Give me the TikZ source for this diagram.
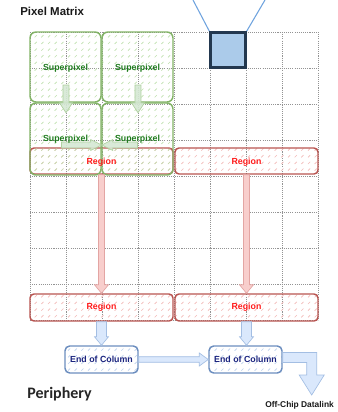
\documentclass[tikz,border=0pt]{standalone}
\usepackage{fontspec}
\setmainfont{Liberation Sans}
\newfontfamily\carl{Carlito}
\usetikzlibrary{patterns,calc}
\pgfdeclarepatternformonly{shorthatch}{\pgfqpoint{-1pt}{-1pt}}{\pgfqpoint{6pt}{6pt}}{\pgfqpoint{5pt}{5pt}}{%
  \pgfsetlinewidth{0.45pt}%
  \pgfpathmoveto{\pgfqpoint{1pt}{1pt}}\pgfpathlineto{\pgfqpoint{2.6pt}{2.6pt}}\pgfusepath{stroke}%
}
\definecolor{spline}{HTML}{82B366}
\definecolor{sptext}{HTML}{1E7B1E}
\definecolor{sphatch}{HTML}{BFE0AE}
\definecolor{rgline}{HTML}{B85450}
\definecolor{rgtext}{HTML}{FF1A1A}
\definecolor{rghatch}{HTML}{F2B9B7}
\definecolor{ecline}{HTML}{6C8EBF}
\definecolor{ectext}{HTML}{1A237E}
\definecolor{echatch}{HTML}{BCD0EC}
\definecolor{garrowf}{HTML}{D5E8D4}
\definecolor{garrowd}{HTML}{AFD19F}
\definecolor{parrowf}{HTML}{F8CECC}
\definecolor{parrowd}{HTML}{E3A5A3}
\definecolor{barrowf}{HTML}{DAE8FC}
\definecolor{barrowd}{HTML}{A3BEE3}
\definecolor{pixfill}{HTML}{ABCBEA}
\definecolor{pixline}{HTML}{23384F}
\definecolor{beam}{HTML}{6FA3DE}
\def\pxu{0.75pt}
% vertical (downward) block arrow: from, to, shaft half, head half, head length, style
\newcommand\blockdown[6]{%
  \path[#6] let \p1=(#1), \p2=(#2) in
    ({\x1-#3},{\y1}) -- ({\x1-#3},{\y2+#5}) -- ({\x1-#4},{\y2+#5}) -- ({\x1},{\y2})
    -- ({\x1+#4},{\y2+#5}) -- ({\x1+#3},{\y2+#5}) -- ({\x1+#3},{\y1}) -- cycle;}
% horizontal block arrow
\newcommand\blockh[6]{%
  \path[#6] let \p1=(#1), \p2=(#2), \n1={sign(\x2-\x1)} in
    ({\x1},{\y1+#3}) -- ({\x2-(\n1)*(#5)},{\y1+#3}) -- ({\x2-(\n1)*(#5)},{\y1+#4}) -- ({\x2},{\y1})
    -- ({\x2-(\n1)*(#5)},{\y1-#4}) -- ({\x2-(\n1)*(#5)},{\y1-#3}) -- ({\x1},{\y1-#3}) -- cycle;}
\begin{document}
\begin{tikzpicture}[x=0.75pt,y=-0.75pt,
  gridline/.style={draw=gray!85, line width=0.5pt, dash pattern=on 0.8pt off 0.8pt},
  spbox/.style={draw=spline, line width=1.1pt, rounded corners=4.5pt, pattern=shorthatch, pattern color=sphatch, inner sep=0pt},
  rgbox/.style={draw=rgline, line width=1.1pt, rounded corners=3pt, pattern=shorthatch, pattern color=rghatch, inner sep=0pt, minimum width=143*\pxu},
  ecbox/.style={draw=ecline, line width=1.1pt, rounded corners=3.5pt, pattern=shorthatch, pattern color=echatch, inner sep=0pt, minimum width=73*\pxu, minimum height=27*\pxu},
  lbl/.style={font=\fontsize{6.6}{7}\selectfont\bfseries, inner sep=0pt},
  garr/.style={fill=garrowf, draw=garrowd, line width=0.5pt, fill opacity=0.9},
  parr/.style={fill=parrowf, draw=parrowd, line width=0.5pt},
  barr/.style={fill=barrowf, draw=barrowd, line width=0.5pt},
]
\useasboundingbox (0,0) rectangle (337,412);

% grid
\foreach \i in {0,...,8} \draw[gridline] (30+36*\i,32) -- (30+36*\i,320);
\foreach \j in {0,...,8} \draw[gridline] (30,32+36*\j) -- (318,32+36*\j);

% regions
\node[rgbox, minimum height=26*\pxu] (rg1) at (101.5,161) {};
\node[rgbox, minimum height=26*\pxu] (rg2) at (246.5,161) {};
\node[rgbox, minimum height=27*\pxu] (rg3) at (101.5,307.5) {};
\node[rgbox, minimum height=27*\pxu] (rg4) at (246.5,307.5) {};

% superpixels
\node[spbox, minimum width=71*\pxu, minimum height=70*\pxu] (sp1) at (65.5,67) {};
\node[spbox, minimum width=71*\pxu, minimum height=70*\pxu] (sp2) at (137.5,67) {};
\node[spbox, minimum width=71*\pxu, minimum height=72*\pxu] (sp3) at (65.5,139) {};
\node[spbox, minimum width=71*\pxu, minimum height=72*\pxu] (sp4) at (137.5,139) {};

% end of column
\node[ecbox] (ec1) at (101.5,359.5) {};
\node[ecbox] (ec2) at (245.5,359.5) {};

% highlighted pixel and its beams
\coordinate (beamL) at (193,0);
\coordinate (beamR) at (265,0);
\draw[beam, line width=0.8pt] (beamL) -- (209.5,31.5);
\draw[beam, line width=0.8pt] (beamR) -- (246.5,31.5);
\node[draw=pixline, fill=pixfill, line width=2.3pt, minimum size=35*\pxu, inner sep=0pt] (pix) at (228,50) {};

% green arrows
\coordinate (g1s) at ($(sp1.center)+(0.5,18)$);
\coordinate (g1e) at ($(sp1.south)+(0.5,10)$);
\coordinate (g2s) at ($(sp2.center)+(0.5,18)$);
\coordinate (g2e) at ($(sp2.south)+(0.5,10)$);
\blockdown{g1s}{g1e}{2.25pt}{4.9pt}{7.5pt}{garr}
\blockdown{g2s}{g2e}{2.25pt}{4.9pt}{7.5pt}{garr}
\coordinate (g3s) at ($(sp3.center)+(-4,6)$);
\coordinate (g3e) at ($(sp3.east)+(0,6)$);
\coordinate (g4s) at ($(sp4.center)+(0,6)$);
\coordinate (g4e) at ($(sp4.west)+(0.5,6)$);
\blockh{g3s}{g3e}{2.25pt}{4.1pt}{8.25pt}{garr}
\blockh{g4s}{g4e}{2.25pt}{4.1pt}{8.25pt}{garr}

% pink arrows
\blockdown{rg1.south}{rg3.north}{2.25pt}{5.25pt}{6.4pt}{parr}
\blockdown{rg2.south}{rg4.north}{2.25pt}{5.25pt}{6.4pt}{parr}

% blue arrows
\blockdown{rg3.south}{ec1.north}{3.75pt}{5.25pt}{6.4pt}{barr}
\blockdown{rg4.south}{ec2.north}{3.75pt}{5.25pt}{6.4pt}{barr}
\blockh{ec1.east}{ec2.west}{2.1pt}{4.9pt}{6.75pt}{barr}
\coordinate (offchip) at (311.7,395);
\coordinate (ec2o) at ($(ec2.east)+(0,-2)$);
\path[barr] let \p1=(ec2o), \p2=(offchip) in
  ({\x1},{\y1+3.75pt}) -- ({\x2+3.75pt},{\y1+3.75pt}) -- ({\x2+3.75pt},{\y2+15pt}) -- ({\x2+9.4pt},{\y2+15pt})
  -- ({\x2},{\y2}) -- ({\x2-9.4pt},{\y2+15pt}) -- ({\x2-3.75pt},{\y2+15pt}) -- ({\x2-3.75pt},{\y1-3.75pt})
  -- ({\x1},{\y1-3.75pt}) -- cycle;

% labels
\node[lbl, text=sptext] (sp1l) at ($(sp1.center)+(0,1)$) {Superpixel};
\node[lbl, text=sptext] (sp2l) at ($(sp2.center)+(0,1)$) {Superpixel};
\node[lbl, text=sptext] (sp3l) at (sp3.center) {Superpixel};
\node[lbl, text=sptext] (sp4l) at (sp4.center) {Superpixel};
\node[lbl, text=rgtext] (rg1l) at ($(rg1.center)+(0,1)$) {Region};
\node[lbl, text=rgtext] (rg2l) at ($(rg2.center)+(0,1)$) {Region};
\node[lbl, text=rgtext] (rg3l) at (rg3.center) {Region};
\node[lbl, text=rgtext] (rg4l) at (rg4.center) {Region};
\node[lbl, text=ectext] (ec1l) at (ec1.center) {End of Column};
\node[lbl, text=ectext] (ec2l) at (ec2.center) {End of Column};
\node[lbl, font=\fontsize{6.3}{7}\selectfont\bfseries, text=black!90, anchor=west] (offl) at (265,405.5) {Off-Chip Datalink};
\node[inner sep=0pt, anchor=west, font=\fontsize{8.6}{10}\selectfont\bfseries, text=black!90] (pm) at (20,11) {Pixel Matrix};
\node[inner sep=0pt, anchor=west, font=\carl\fontsize{12}{14}\selectfont\bfseries, text=black!85] (per) at (27,394) {Periphery};
\end{tikzpicture}
\end{document}
